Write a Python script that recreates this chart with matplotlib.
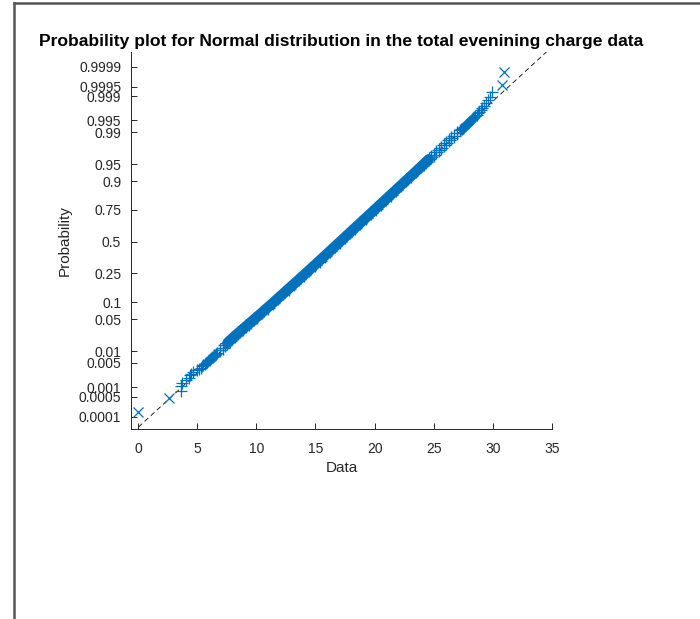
import numpy as np
import matplotlib
matplotlib.use('Agg')
import matplotlib.pyplot as plt
from matplotlib.lines import Line2D
from statistics import NormalDist

plt.rcParams['font.family'] = ['Liberation Sans', 'DejaVu Sans']

# total evening charge
n_total = 3333
# lowest values (rank 1, 2, 3, ...)
low_tail = [0.0, 2.65, 3.59, 3.61, 3.73, 4.04, 4.28, 4.42, 4.48, 4.66,
            5.00, 5.15, 5.30, 5.42, 5.52, 5.62, 5.72, 5.81, 5.90, 5.98,
            6.05, 6.12, 6.19, 6.26, 6.33, 6.40, 6.46, 6.52, 6.58, 6.64]
# highest values (largest first)
high_tail = [30.91, 30.75, 29.95, 29.72, 29.55, 29.40, 29.22, 29.10, 28.96, 28.84,
             28.72, 28.62, 28.52, 28.43, 28.33, 28.24, 28.15, 28.06, 27.98, 27.90,
             27.83, 27.76, 27.69, 27.62, 27.56, 27.50, 27.44, 27.38, 27.32, 27.26]
# dense middle part: data value and probability
mid_data = [6.95, 7.15, 7.35, 7.56, 7.76, 7.98, 8.20, 8.43, 8.66, 8.89,
            9.12, 9.35, 9.58, 9.81, 10.04, 10.50, 10.95, 11.40, 11.84, 12.29,
            12.73, 13.17, 13.61, 14.05, 14.49, 14.92, 15.36, 15.79, 16.22, 16.65,
            17.08, 17.51, 17.94, 18.37, 18.80, 19.23, 19.66, 20.09, 20.52, 20.95,
            21.38, 21.81, 22.24, 22.67, 23.10, 23.53, 23.95, 24.16, 24.37, 24.58,
            24.79, 25.00, 25.21, 25.42, 25.63, 25.84, 26.05, 26.27, 26.49, 26.71, 26.93]
mid_prob = [0.01072, 0.01222, 0.01390, 0.01578, 0.01786, 0.02018, 0.02275, 0.02559, 0.02872, 0.03216,
            0.03593, 0.04006, 0.04457, 0.04947, 0.05480, 0.06681, 0.08076, 0.09680, 0.11507, 0.13567,
            0.15866, 0.18406, 0.21186, 0.24196, 0.27425, 0.30854, 0.34458, 0.38209, 0.42074, 0.46017,
            0.5, 0.53983, 0.57926, 0.61791, 0.65542, 0.69146, 0.72575, 0.75804, 0.78814, 0.81594,
            0.84134, 0.86433, 0.88493, 0.90320, 0.91924, 0.93319, 0.94520, 0.95053, 0.95543, 0.95994,
            0.96407, 0.96784, 0.97128, 0.97441, 0.97725, 0.97982, 0.98214, 0.98422, 0.98610, 0.98778, 0.98928]
quartiles = [14.16, 20.0]

prob_ticks = [0.0001, 0.0005, 0.001, 0.005, 0.01, 0.05, 0.1, 0.25, 0.5,
              0.75, 0.9, 0.95, 0.99, 0.995, 0.999, 0.9995, 0.9999]
prob_labels = ['0.0001', '0.0005', '0.001', '0.005', '0.01', '0.05', '0.1', '0.25', '0.5',
               '0.75', '0.9', '0.95', '0.99', '0.995', '0.999', '0.9995', '0.9999']

nd = NormalDist()
def z(p):
    return nd.inv_cdf(p)

blue = '#0072BD'
dark = '#262626'

# plotting positions (i - 0.5) / n for the tails
low_z = [z((i + 0.5) / n_total) for i in range(len(low_tail))]
high_z = [z((n_total - i - 0.5) / n_total) for i in range(len(high_tail))]
mid_z = [z(p) for p in mid_prob]

fig = plt.figure(figsize=(7.0, 6.19), dpi=100)
ax = fig.add_axes([0.1871, 0.3069, 0.6015, 0.6091])

# reference line through the quartiles
zq = [z(0.25), z(0.75)]
slope = (zq[1] - zq[0]) / (quartiles[1] - quartiles[0])
xl = np.array([-1.0, 36.0])
ax.plot(xl, zq[0] + slope * (xl - quartiles[0]), color='k', lw=0.6,
        dashes=(6, 4), zorder=1)

# solid core of the dense middle
ax.plot(mid_data[3:50], mid_z[3:50], color=blue, lw=7.5, solid_capstyle='round', zorder=2)
ax.plot(mid_data, mid_z, ls='none', marker='+', ms=9.5, mew=1.0, color=blue, zorder=3)
ax.plot(low_tail[2:], low_z[2:], ls='none', marker='+', ms=8, mew=0.9, color=blue, zorder=3)
ax.plot(high_tail[2:], high_z[2:], ls='none', marker='+', ms=8, mew=0.9, color=blue, zorder=3)
ax.plot(low_tail[:2], low_z[:2], ls='none', marker='x', ms=6.5, mew=0.9, color=blue, zorder=3)
ax.plot(high_tail[:2], high_z[:2], ls='none', marker='x', ms=6.5, mew=0.9, color=blue, zorder=3)

ax.set_xlim(-0.6, 35)
ax.set_ylim(-3.98, 4.03)
ax.set_xticks(range(0, 36, 5))
ax.set_yticks([z(p) for p in prob_ticks])
ax.set_yticklabels(prob_labels)

for s in ['top', 'right']:
    ax.spines[s].set_visible(False)
for s in ['left', 'bottom']:
    ax.spines[s].set_color(dark)
    ax.spines[s].set_linewidth(0.7)
ax.tick_params(direction='in', length=4, width=0.7, colors=dark, labelsize=10)
ax.tick_params(axis='x', pad=9)
ax.tick_params(axis='y', pad=7)

ax.set_title('Probability plot for Normal distribution in the total evenining charge data',
             fontsize=12.6, fontweight='bold', color='k', pad=4)
ax.set_xlabel('Data', fontsize=11, color=dark, labelpad=4)
ax.set_ylabel('Probability', fontsize=11, color=dark, labelpad=5)

# frame of the screenshot
fig.add_artist(Line2D([13.5 / 700, 13.5 / 700], [0, 1 - 2.5 / 619], color='#555555', lw=1.8))
fig.add_artist(Line2D([13.5 / 700, 1], [1 - 2.5 / 619, 1 - 2.5 / 619], color='#555555', lw=1.8))

fig.savefig('out.png', dpi=100)
